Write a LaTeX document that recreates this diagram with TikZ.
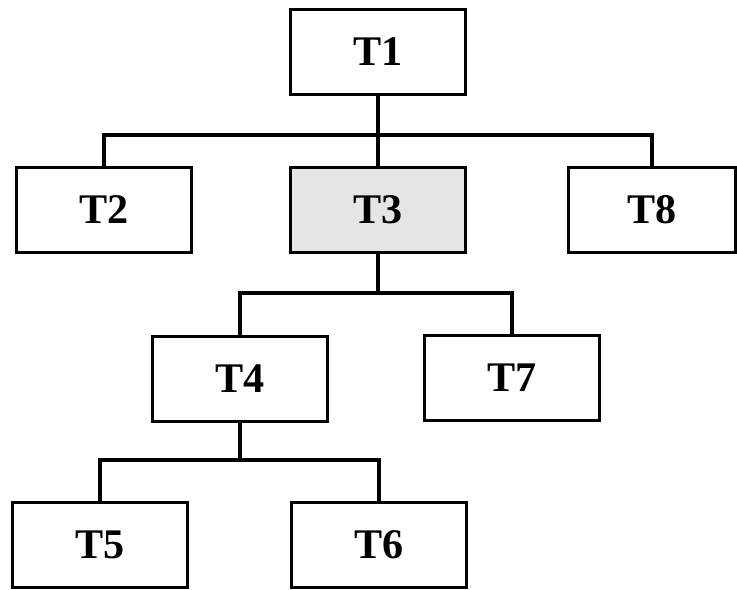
\documentclass[tikz,border=0pt]{standalone}
\usepackage{fontspec}
\setmainfont{Liberation Serif}
\usepackage{tikz}

\begin{document}
\begin{tikzpicture}[x=0.02cm,y=-0.02cm]
\tikzstyle{task} = [rectangle, draw=black, line width=1.8pt, minimum width=3.5cm, minimum height=1.7cm, inner sep=0pt, font=\bfseries\fontsize{24}{28}\selectfont]
\tikzstyle{selected task} = [task, fill=black!10]
\tikzstyle{link} = [draw=black, line width=2pt]

\useasboundingbox (0,0) rectangle (737,590);

\node[task] (T1) at (378,52) {T1};
\node[task] (T2) at (104,210) {T2};
\node[selected task] (T3) at (378,210) {T3};
\node[task, minimum width=3.34cm] (T8) at (652,210) {T8};
\node[task] (T4) at (240,379) {T4};
\node[task] (T7) at (512,378) {T7};
\node[task] (T5) at (100,545) {T5};
\node[task] (T6) at (379,545) {T6};

\coordinate (J1) at (378,135);
\coordinate (J3) at (378,293);
\coordinate (J4) at (240,460);

\path[link] (T1) -- (J1);
\path[link] (J1) -| (T2.north);
\path[link] (J1) -- (T3);
\path[link] (J1) -| (T8.north);
\path[link] (T3) -- (J3);
\path[link] (J3) -| (T4.north);
\path[link] (J3) -| (T7.north);
\path[link] (T4) -- (J4);
\path[link] (J4) -| (T5.north);
\path[link] (J4) -| (T6.north);
\end{tikzpicture}
\end{document}
